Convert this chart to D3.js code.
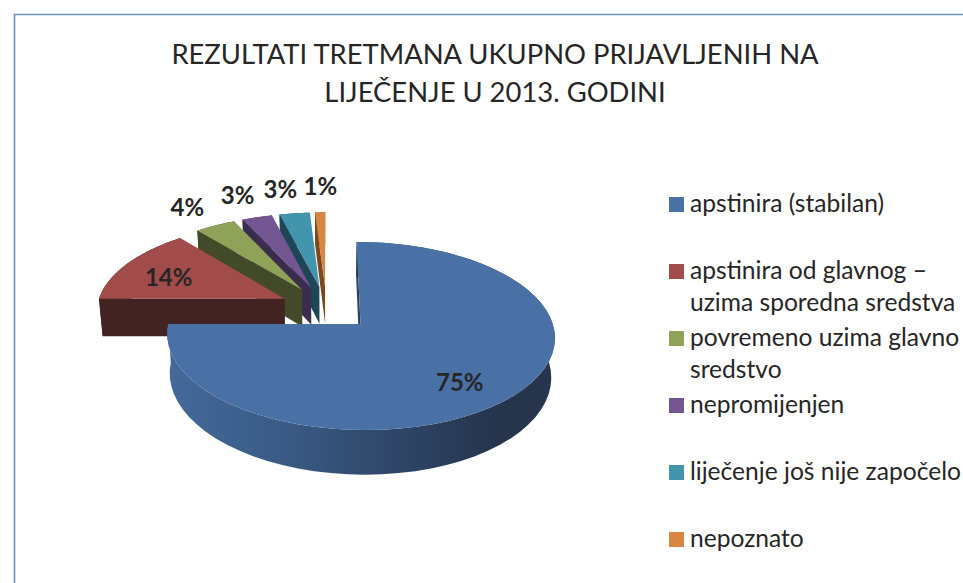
<!DOCTYPE html>
<html><head><meta charset="utf-8">
<style>html,body{margin:0;padding:0;background:#fff;overflow:hidden}svg{display:block}</style>
<script src="https://cdn.jsdelivr.net/npm/d3@7/dist/d3.min.js"></script>
</head><body><svg id="c" width="963" height="583"></svg>
<script>
const titleLines = ["REZULTATI TRETMANA UKUPNO PRIJAVLJENIH NA", "LIJEČENJE U 2013. GODINI"];
const categories = ["apstinira (stabilan)", "apstinira od glavnog – uzima sporedna sredstva", "povremeno uzima glavno sredstvo", "nepromijenjen", "liječenje još nije započelo", "nepoznato"];
const legendLines = [["apstinira (stabilan)"], ["apstinira od glavnog –", "uzima sporedna sredstva"], ["povremeno uzima glavno", "sredstvo"], ["nepromijenjen"], ["liječenje još nije započelo"], ["nepoznato"]];
const values = [75, 14, 4, 3, 3, 1];
const topColors = ["#4a71a5", "#a14c4a", "#8fa358", "#735691", "#4395ad", "#d98643"];
const wallColors = ["#2d3f5c", "#432222", "#434a2a", "#3b2d4d", "#1f4656", "#7a4a1f"];
const labelRadius = [0.74, 0.70, 1.34, 1.355, 1.39, 1.40];
const labelNudge = [[-11, 7], [-4, 4], [-2, 2], [-3, 0], [-6, 1], [2, 0]];

const svg = d3.select("#c");
const ink = "#262626", font = "Lato, 'Open Sans', sans-serif";

// frame
svg.append("path").attr("d", "M14.5,583V14.5H963").attr("fill", "none").attr("stroke", "#6c8ec2").attr("stroke-width", 1.6);

// title
svg.append("g").selectAll("text").data(titleLines).join("text")
  .attr("x", 495).attr("y", (d, i) => 64 + i * 38)
  .attr("text-anchor", "middle").attr("font-family", font).attr("font-size", 27.4).attr("fill", ink).text(d => d);

// perspective model of an exploded pie
const P = {px: 326.5, py: 308, a: 188, b: 88.5, k: 0.125, explode: 0.25, H: 38, tx: 0.016};
const project = (X, Y, z = 0) => {
  const D = 1 + P.k * Y;
  return [P.px + (P.a * X / D) * (1 - P.tx * z), P.py + (-P.b * Y + P.H * z) / D];
};
const pie = d3.pie().value(d => d).sort(null);
const arcs = pie(values).map((d, i) => {
  const mid = (d.startAngle + d.endAngle) / 2;
  const ox = P.explode * Math.sin(mid), oy = P.explode * Math.cos(mid);
  const world = (t, r = 1) => [ox + r * Math.sin(t), oy + r * Math.cos(t)];
  return {...d, i, mid, ox, oy, world};
});
const line = d3.line();
const samples = a => d3.range(0, 61).map(j => a.startAngle + (a.endAngle - a.startAngle) * j / 60);

const defs = svg.append("defs");
const grad = defs.append("linearGradient").attr("id", "blueSide").attr("gradientUnits", "userSpaceOnUse")
  .attr("x1", 168).attr("x2", 556).attr("y1", 0).attr("y2", 0);
[[0, "#44699a"], [0.3, "#3a5a85"], [0.6, "#2e4566"], [0.85, "#26344c"], [1, "#26344c"]].forEach(s =>
  grad.append("stop").attr("offset", s[0]).attr("stop-color", s[1]));

const g = svg.append("g");
// painter's order, far slices first
const order = arcs.slice().reverse();
order.forEach(a => {
  const rim = samples(a).map(t => a.world(t));
  const wallFill = a.i === 0 ? "url(#blueSide)" : wallColors[a.i];
  const c = [a.ox, a.oy];
  const top = rim.map(w => project(w[0], w[1], 0));
  const bot = rim.map(w => project(w[0], w[1], 1));
  g.append("path").attr("d", line(top.concat(bot.slice().reverse())) + "Z").attr("fill", wallFill);
  const s = rim[0];
  g.append("path").attr("d", line([project(...c, 0), project(...s, 0), project(...s, 1), project(...c, 1)]) + "Z").attr("fill", wallColors[a.i]);
});
order.forEach(a => {
  const rim = samples(a).map(t => project(...a.world(t), 0));
  g.append("path").attr("d", line([project(a.ox, a.oy, 0), ...rim]) + "Z").attr("fill", topColors[a.i]);
});

// data labels
svg.append("g").selectAll("text").data(arcs).join("text")
  .attr("x", a => project(...a.world(a.mid, labelRadius[a.i]))[0] + labelNudge[a.i][0])
  .attr("y", a => project(...a.world(a.mid, labelRadius[a.i]))[1] + labelNudge[a.i][1] + 8)
  .attr("text-anchor", "middle").attr("font-family", font).attr("font-weight", 700).attr("font-size", 24).attr("fill", ink)
  .text(a => d3.format(".0f")(a.value) + "%");

// legend
const legendY = d3.scalePoint().domain(categories).range([212, 547]);
const lg = svg.append("g").selectAll("g").data(categories).join("g")
  .attr("transform", d => `translate(669,${legendY(d)})`);
lg.append("rect").attr("y", -15).attr("width", 15).attr("height", 15).attr("fill", (d, i) => topColors[i]);
lg.each(function (d, i) {
  d3.select(this).selectAll("text").data(legendLines[i]).join("text")
    .attr("x", 21).attr("y", (l, j) => j * 32)
    .attr("font-family", font).attr("font-size", 24.6).attr("fill", ink).text(l => l);
});
</script></body></html>
